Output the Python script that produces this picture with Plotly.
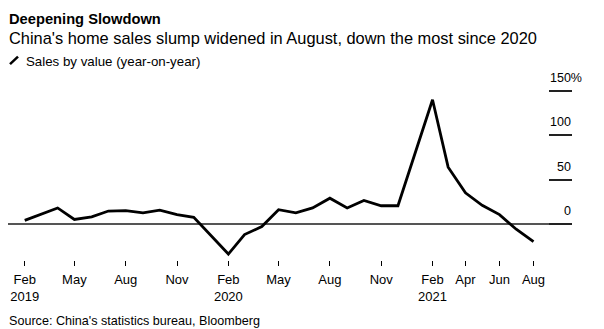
import plotly.graph_objects as go

# ---- data (year-on-year change in home sales by value, %) ----
months = [
    "2019-02-01", "2019-03-01", "2019-04-01", "2019-05-01", "2019-06-01", "2019-07-01",
    "2019-08-01", "2019-09-01", "2019-10-01", "2019-11-01", "2019-12-01",
    "2020-02-01", "2020-03-01", "2020-04-01", "2020-05-01", "2020-06-01", "2020-07-01",
    "2020-08-01", "2020-09-01", "2020-10-01", "2020-11-01", "2020-12-01",
    "2021-02-01", "2021-03-01", "2021-04-01", "2021-05-01", "2021-06-01", "2021-07-01",
    "2021-08-01",
]
sales_yoy = [
    4, 11, 18, 5, 8, 14.5, 15, 12.5, 15.5, 10.5, 7.5,
    -34, -12, -3, 16, 12.5, 18, 29, 18, 26.5, 20.5, 20.5,
    140, 64, 35, 21, 10.5, -6, -20,
]
x_tick_vals = [
    "2019-02-01", "2019-05-01", "2019-08-01", "2019-11-01",
    "2020-02-01", "2020-05-01", "2020-08-01", "2020-11-01",
    "2021-02-01", "2021-04-01", "2021-06-01", "2021-08-01",
]
x_tick_text = [
    "Feb<br>2019", "May", "Aug", "Nov",
    "Feb<br>2020", "May", "Aug", "Nov",
    "Feb<br>2021", "Apr", "Jun", "Aug",
]
y_tick_vals = [0, 50, 100, 150]
y_tick_text = ["0", "50", "100", "150%"]

title = "Deepening Slowdown"
subtitle = "China's home sales slump widened in August, down the most since 2020"
legend_label = "Sales by value (year-on-year)"
source = "Source: China's statistics bureau, Bloomberg"

# ---- layout geometry (pixels) ----
W, H = 604, 329
L, R = 8, 572
T, B = 80, 260.5
PW, PH = R - L, B - T
FONT = "Liberation Sans, Arial, sans-serif"


def px_x(p):
    return (p - L) / PW


def px_y(p):
    return (B - p) / PH


fig = go.Figure()
fig.add_trace(go.Scatter(
    x=months, y=sales_yoy, mode="lines",
    line=dict(color="#000000", width=2.8),
    name=legend_label, showlegend=False, hoverinfo="skip",
))

annotations = [
    dict(text="<b>" + title + "</b>", x=px_x(7), y=px_y(19), xref="paper", yref="paper",
         xanchor="left", yanchor="middle", showarrow=False,
         font=dict(family=FONT, size=14.7, color="#000")),
    dict(text=subtitle, x=px_x(7), y=px_y(38), xref="paper", yref="paper",
         xanchor="left", yanchor="middle", showarrow=False,
         font=dict(family=FONT, size=16.4, color="#000")),
    dict(text=legend_label, x=px_x(24), y=px_y(61.5), xref="paper", yref="paper",
         xanchor="left", yanchor="middle", showarrow=False,
         font=dict(family=FONT, size=13.3, color="#000")),
    dict(text=source, x=px_x(7), y=px_y(321.5), xref="paper", yref="paper",
         xanchor="left", yanchor="middle", showarrow=False,
         font=dict(family=FONT, size=12.6, color="#000")),
]
for v, t in zip(y_tick_vals, y_tick_text):
    xr = 584 if t.endswith("%") else 572.5
    annotations.append(dict(
        text=t, x=px_x(xr), y=v, xref="paper", yref="y",
        xanchor="right", yanchor="bottom", yshift=4, showarrow=False,
        font=dict(family=FONT, size=12.5, color="#000"),
    ))

fig.update_layout(
    width=W, height=H,
    margin=dict(l=L, r=W - R, t=T, b=H - B, pad=0),
    paper_bgcolor="white", plot_bgcolor="white",
    font=dict(family=FONT, size=13, color="#000"),
    showlegend=False,
    annotations=annotations,
    shapes=[dict(type="line", xref="paper", yref="paper",
                 x0=px_x(10), y0=px_y(64), x1=px_x(18), y1=px_y(56.5),
                 line=dict(color="#000", width=2.5))],
    xaxis=dict(
        type="date", range=["2019-01-02", "2021-10-09"],
        tickvals=x_tick_vals, ticktext=x_tick_text,
        ticks="outside", ticklen=5, tickwidth=1, tickcolor="#000",
        ticklabelstandoff=2,
        showgrid=False, zeroline=False, showline=False,
        tickfont=dict(family=FONT, size=13, color="#000"),
        fixedrange=True,
    ),
    yaxis=dict(
        range=[-40.7, 162.3], side="right",
        tickvals=y_tick_vals, showticklabels=False,
        ticks="inside", ticklen=23, tickwidth=1.5, tickcolor="#222",
        showgrid=False, showline=False,
        zeroline=True, zerolinecolor="#555", zerolinewidth=1.5,
        fixedrange=True,
    ),
)

fig.write_html("out.html")
